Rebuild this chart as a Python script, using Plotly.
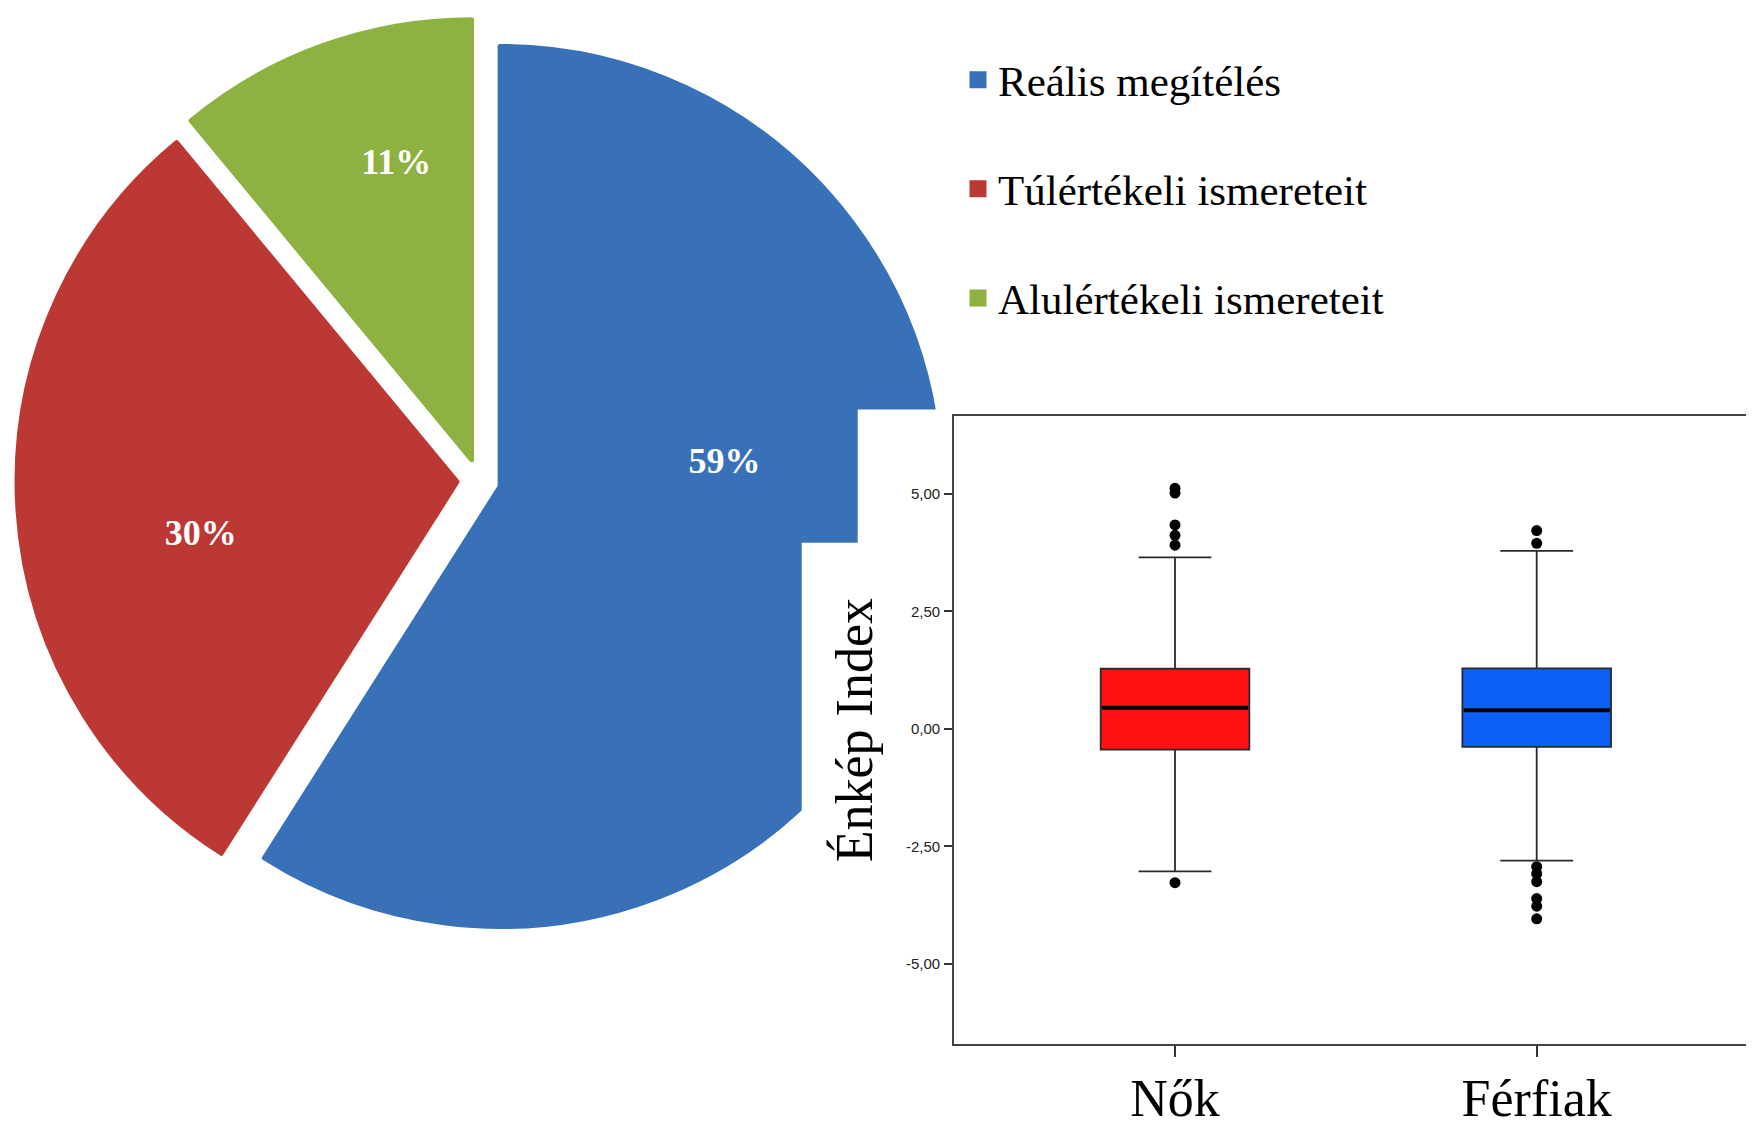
import plotly.graph_objects as go

# ---------------- data ----------------
pie_labels = ["Reális megítélés", "Túlértékeli ismereteit", "Alulértékeli ismereteit"]
pie_values = [59, 30, 11]
pie_colors = ["#3871B8", "#BC3835", "#8DB241"]

groups = ["Nők", "Férfiak"]
box_colors = ["#FF1111", "#0C5FF6"]
q1 = [-0.44, -0.38]
median = [0.45, 0.40]
q3 = [1.28, 1.29]
lower_whisker = [-3.03, -2.80]
upper_whisker = [3.65, 3.79]
outliers_nok = [5.12, 5.02, 4.34, 4.12, 3.91, -3.27]
outliers_ferfiak = [4.22, 3.95, -2.93, -3.08, -3.25, -3.61, -3.77, -4.04]
outliers = [outliers_nok, outliers_ferfiak]

y_tick_vals = [5, 2.5, 0, -2.5, -5]
y_tick_text = ["5,00", "2,50", "0,00", "-2,50", "-5,00"]
y_title = "Énkép Index"

# ---------------- geometry helpers (target pixel -> paper fraction) ----------------
W, H = 1738, 1122
OX, OY = 8, 8
SY = 0.993
def px(X):
    return (X - OX) / W
def py(Y):
    return 1 - (Y / SY - OY) / H

NB = "\u00a0"
def sp(size, s):
    return "<span style='font-size:%dpx'>%s</span>" % (size, s)

fig = go.Figure()

legend_labels = [sp(43, l) + "<br>" + NB for l in pie_labels]
pct = "<b>%{percent:.0%}</b>"
text_templates = [
    sp(52, NB * 2) + pct + ("<br>" + NB) * 4,
    sp(64, NB) + "<br>" + pct + NB * 3,
    sp(9, NB) + "<br>" + NB * 8 + pct,
]
fig.add_trace(go.Pie(
    labels=legend_labels, values=pie_values, sort=False,
    direction="clockwise", rotation=0, pull=0.05,
    marker=dict(colors=pie_colors, line=dict(color=pie_colors, width=5)),
    texttemplate=text_templates, textposition="inside",
    insidetextorientation="horizontal",
    textfont=dict(family="Liberation Serif", size=36, color="white"),
    domain=dict(x=[px(17), px(941)], y=[py(940), py(14)]),
    hoverinfo="skip",
))

box_w = 0.411
positions = list(range(len(groups)))
for i, g in enumerate(groups):
    fig.add_trace(go.Box(
        x=[positions[i]], q1=[q1[i]], median=[median[i]], q3=[q3[i]],
        lowerfence=[lower_whisker[i]], upperfence=[upper_whisker[i]],
        orientation="v", width=box_w, whiskerwidth=0.49,
        fillcolor=box_colors[i], line=dict(color="#2a2a2a", width=1.8),
        boxpoints=False, showlegend=False, hoverinfo="skip",
    ))
    fig.add_trace(go.Scatter(
        x=[positions[i] - box_w / 2 + 0.004, positions[i] + box_w / 2 - 0.004],
        y=[median[i], median[i]], mode="lines",
        line=dict(color="black", width=4), showlegend=False, hoverinfo="skip",
    ))
    fig.add_trace(go.Scatter(
        x=[positions[i]] * len(outliers[i]), y=outliers[i], mode="markers",
        marker=dict(color="black", size=11), showlegend=False, hoverinfo="skip",
    ))

# y tick labels as annotations (to sit above the white cover)
for v, t in zip(y_tick_vals, y_tick_text):
    fig.add_annotation(x=px(942), xref="paper", y=v, yref="y", text=t,
                       showarrow=False, xanchor="right", yanchor="middle",
                       font=dict(family="Liberation Sans", size=15, color="#222"))

# white panels of the box plot picture covering the pie
fig.add_shape(type="rect", xref="paper", yref="paper", layer="above",
              x0=px(857.7), x1=px(944), y0=0, y1=py(406.7),
              fillcolor="white", line=dict(width=0))
fig.add_shape(type="rect", xref="paper", yref="paper", layer="above",
              x0=px(801.7), x1=px(944), y0=0, y1=py(539),
              fillcolor="white", line=dict(width=0))

x_left, x_right = -0.6116, (1746 - 1175) / 361.7
fig.update_layout(
    width=W, height=H, margin=dict(l=0, r=0, t=0, b=0),
    paper_bgcolor="white", plot_bgcolor="white",
    boxmode="overlay",
    showlegend=True,
    legend=dict(x=px(958), y=py(46.4), xanchor="left", yanchor="top",
                font=dict(family="Liberation Serif", size=40.8, color="black"),
                valign="top", bgcolor="rgba(0,0,0,0)"),
    xaxis=dict(domain=[px(953.8), 1.0], range=[x_left, x_right],
               tickvals=positions, ticktext=groups, ticks="outside", ticklen=11,
               tickcolor="#333", tickwidth=2,
               showline=True, mirror=True, linecolor="#444", linewidth=2,
               showgrid=False, zeroline=False, ticklabelstandoff=-4,
               tickfont=dict(family="Liberation Serif", size=52, color="black")),
    yaxis=dict(domain=[py(1037), py(413)], range=[-6.71, 6.66],
               tickvals=y_tick_vals, ticks="outside", ticklen=9, tickcolor="#333",
               tickwidth=2, showticklabels=False,
               showline=True, mirror=False, linecolor="#444", linewidth=2,
               showgrid=False, zeroline=False,
               title=dict(text=y_title + NB * 3, standoff=54,
                          font=dict(family="Liberation Serif", size=52, color="black"))),
)

fig.write_html("out.html")
